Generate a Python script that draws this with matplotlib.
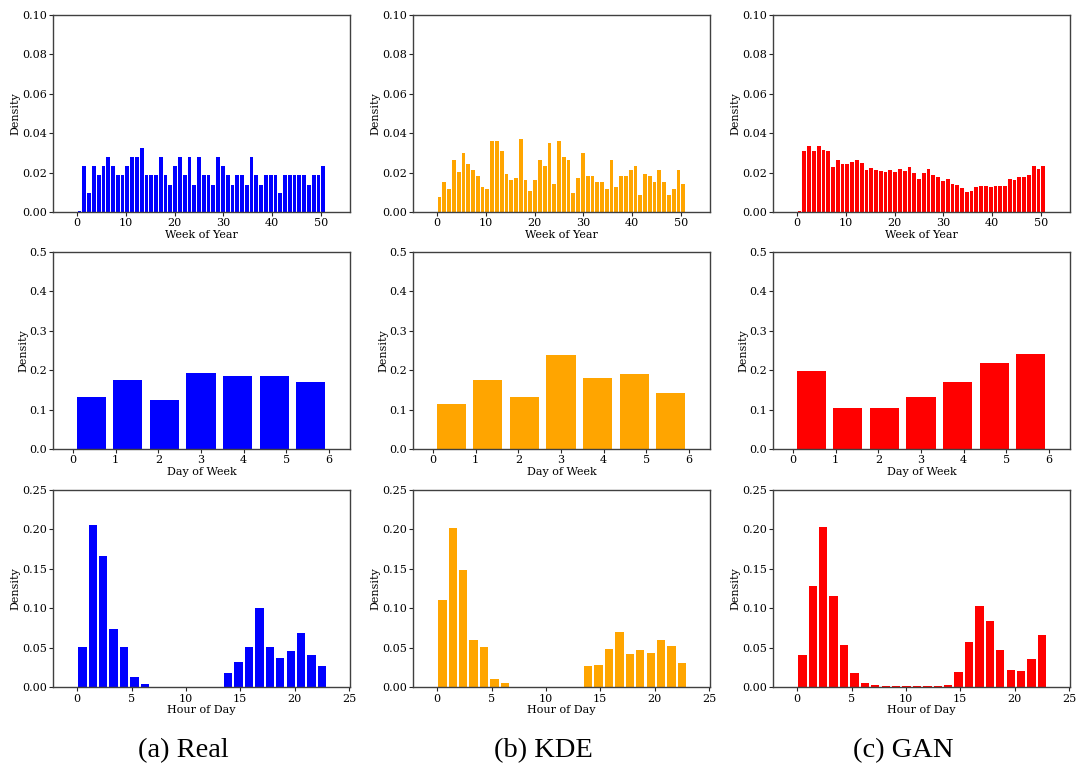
import numpy as np
import matplotlib
matplotlib.use("Agg")
import matplotlib.pyplot as plt
from matplotlib.ticker import FormatStrFormatter

plt.rcParams["font.family"] = "DejaVu Serif"
plt.rcParams["font.size"] = 8

# Density of trips per week of year (52 bins over weeks 0-51)
week_real = [0.0005, 0.0232, 0.0097, 0.0232, 0.0186, 0.0232, 0.0278, 0.0232, 0.0186, 0.0186,
             0.0232, 0.0278, 0.0278, 0.0324, 0.0186, 0.0186, 0.0186, 0.0278, 0.0186, 0.0139,
             0.0232, 0.0278, 0.0186, 0.0278, 0.0139, 0.0278, 0.0186, 0.0186, 0.0139, 0.0278,
             0.0232, 0.0186, 0.0139, 0.0186, 0.0186, 0.0139, 0.0278, 0.0186, 0.0139, 0.0186,
             0.0186, 0.0186, 0.0097, 0.0186, 0.0186, 0.0186, 0.0186, 0.0186, 0.0139, 0.0186,
             0.0186, 0.0232]
week_kde = [0.0075, 0.0151, 0.0115, 0.0263, 0.0202, 0.0298, 0.0242, 0.0212, 0.0181, 0.0125,
            0.0115, 0.0359, 0.0359, 0.0308, 0.0192, 0.0161, 0.0171, 0.0369, 0.0161, 0.0105,
            0.0161, 0.0263, 0.0232, 0.0349, 0.0141, 0.0359, 0.0278, 0.0263, 0.0095, 0.0171,
            0.0298, 0.0181, 0.0181, 0.0151, 0.0151, 0.0115, 0.0263, 0.0125, 0.0181, 0.0181,
            0.0212, 0.0232, 0.0085, 0.0192, 0.0181, 0.0151, 0.0212, 0.0151, 0.0085, 0.0115,
            0.0212, 0.0141]
week_gan = [0.0005, 0.0308, 0.0334, 0.0308, 0.0334, 0.0314, 0.0308, 0.0227, 0.0263, 0.0242,
            0.0242, 0.0253, 0.0263, 0.0247, 0.0212, 0.0222, 0.0212, 0.0207, 0.0202, 0.0212,
            0.0202, 0.0217, 0.0207, 0.0227, 0.0197, 0.0166, 0.0197, 0.0217, 0.0186, 0.0176,
            0.0156, 0.0166, 0.0141, 0.0136, 0.0120, 0.0100, 0.0105, 0.0125, 0.0131, 0.0131,
            0.0125, 0.0131, 0.0131, 0.0131, 0.0166, 0.0161, 0.0176, 0.0176, 0.0186, 0.0232,
            0.0217, 0.0232]

# Density per day of week (7 bins over days 0-6)
day_real = [0.133, 0.176, 0.123, 0.192, 0.186, 0.186, 0.171]
day_kde = [0.115, 0.174, 0.131, 0.237, 0.181, 0.189, 0.143]
day_gan = [0.197, 0.103, 0.105, 0.133, 0.171, 0.219, 0.240]

# Density per hour of day (24 bins over hours 0-23)
hour_real = [0.0508, 0.206, 0.166, 0.0735, 0.0508, 0.013, 0.0042, 0, 0, 0, 0, 0, 0, 0,
             0.018, 0.032, 0.0508, 0.101, 0.0508, 0.037, 0.0458, 0.0685, 0.0408, 0.0269]
hour_kde = [0.110, 0.202, 0.148, 0.0597, 0.0508, 0.0105, 0.0055, 0, 0, 0, 0, 0, 0, 0,
            0.0269, 0.0282, 0.0483, 0.0697, 0.042, 0.047, 0.0433, 0.0597, 0.052, 0.0307]
hour_gan = [0.0408, 0.128, 0.203, 0.116, 0.0534, 0.018, 0.0055, 0.003, 0.0017, 0.0017,
            0.0017, 0.0017, 0.0017, 0.0017, 0.003, 0.0193, 0.0571, 0.1025, 0.0836, 0.047,
            0.0218, 0.0206, 0.0357, 0.066]

models = ["(a) Real", "(b) KDE", "(c) GAN"]
colors = ["blue", "orange", "red"]

rows = [
    dict(data=[week_real, week_kde, week_gan], lo=0, hi=51, xlabel="Week of Year",
         ylim=(0, 0.1), yticks=np.arange(0, 0.101, 0.02), fmt="%.2f",
         xlim=(-4.9, 56.0), xticks=[0, 10, 20, 30, 40, 50]),
    dict(data=[day_real, day_kde, day_gan], lo=0, hi=6, xlabel="Day of Week",
         ylim=(0, 0.5), yticks=np.arange(0, 0.51, 0.1), fmt="%.1f",
         xlim=(-0.46, 6.49), xticks=[0, 1, 2, 3, 4, 5, 6]),
    dict(data=[hour_real, hour_kde, hour_gan], lo=0, hi=23, xlabel="Hour of Day",
         ylim=(0, 0.25), yticks=np.arange(0, 0.251, 0.05), fmt="%.2f",
         xlim=(-2.2, 25.1), xticks=[0, 5, 10, 15, 20, 25]),
]

W, H = 1076, 774
fig = plt.figure(figsize=(W / 100, H / 100), dpi=100)

col_left = [53.3, 413.3, 773.3]
ax_w = 296.7
row_top = [14.7, 251.7, 490.0]
ax_h = 197.3

for r, spec in enumerate(rows):
    for c in range(3):
        ax = fig.add_axes([col_left[c] / W, 1 - (row_top[r] + ax_h) / H, ax_w / W, ax_h / H])
        vals = np.asarray(spec["data"][c])
        edges = np.linspace(spec["lo"], spec["hi"], len(vals) + 1)
        bw = edges[1] - edges[0]
        centers = (edges[:-1] + edges[1:]) / 2
        ax.bar(centers, vals, width=0.8 * bw, color=colors[c], linewidth=0)
        ax.set_xlim(*spec["xlim"])
        ax.set_ylim(*spec["ylim"])
        ax.set_xticks(spec["xticks"])
        ax.set_yticks(spec["yticks"])
        ax.yaxis.set_major_formatter(FormatStrFormatter(spec["fmt"]))
        ax.set_xlabel(spec["xlabel"], labelpad=1)
        ax.set_ylabel("Density", labelpad=1)
        for s in ax.spines.values():
            s.set_color("0.25")
            s.set_linewidth(1.0)
        ax.tick_params(length=3, width=0.8, color="0.15", pad=1.5, labelsize=8)

for c, name in enumerate(models):
    fig.text((col_left[c] + ax_w / 2 - 18) / W, 1 - 751 / H, name, ha="center", va="center",
             fontsize=20.5, family="Liberation Serif")

fig.savefig("out.png", dpi=100)
